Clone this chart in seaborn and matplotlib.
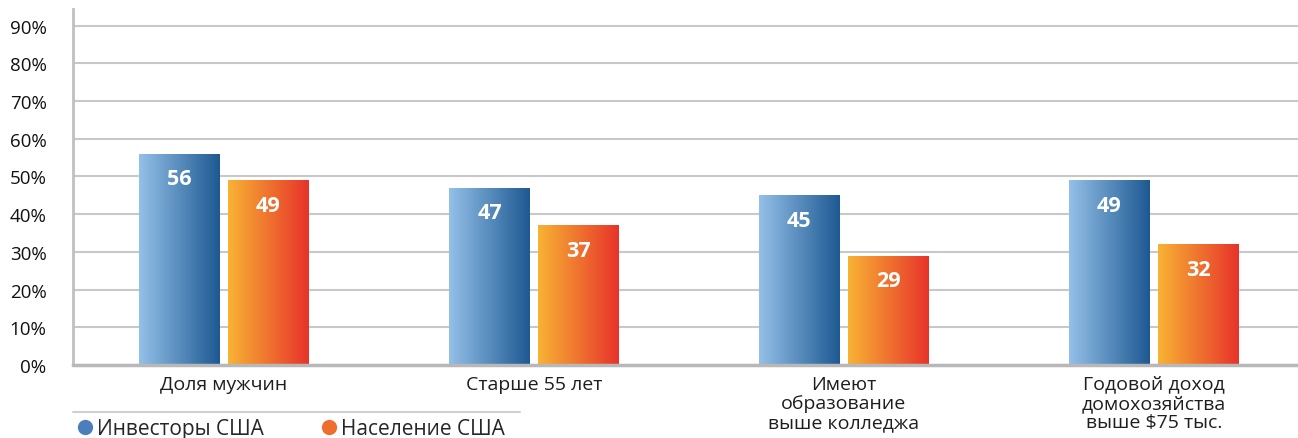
import numpy as np
import pandas as pd
import seaborn as sns
import matplotlib.pyplot as plt
from matplotlib.lines import Line2D
from matplotlib.colors import LinearSegmentedColormap

# Data
categories = ['Доля мужчин', 'Старше 55 лет', 'Имеют\nобразование\nвыше колледжа',
              'Годовой доход\nдомохозяйства\nвыше \\$75 тыс.']
series = ['Инвесторы США', 'Население США']
investors = [56, 47, 45, 49]
population = [49, 37, 29, 32]
yticks = [0, 10, 20, 30, 40, 50, 60, 70, 80, 90]

df = pd.DataFrame({
    'cat': categories * 2,
    'group': [series[0]] * 4 + [series[1]] * 4,
    'value': investors + population,
})

# gradient colours (left -> right) for each series
grad = {
    series[0]: ('#94c0e8', '#1d5992'),
    series[1]: ('#f8b334', '#e7332a'),
}
solid = {series[0]: '#4a7fbb', series[1]: '#ef6e2e'}

sns.set_theme(style='white')
plt.rcParams['font.family'] = ['Open Sans', 'DejaVu Sans']

fig = plt.figure(figsize=(12.98, 4.39), dpi=100)
ax = fig.add_axes([73 / 1298, 1 - 366 / 439, 1 - 73 / 1298, (366 - 10) / 439])

sns.barplot(data=df, x='cat', y='value', hue='group', hue_order=series,
            palette=solid, width=0.574, gap=0.1, legend=False, ax=ax)

# replace flat fills with horizontal gradients clipped to each bar
ramp = np.linspace(0, 1, 256).reshape(1, -1)
for name, cont in zip(series, ax.containers):
    cmap = LinearSegmentedColormap.from_list(name, grad[name])
    for bar, val in zip(cont.patches, cont.datavalues):
        x0, y0 = bar.get_x(), bar.get_y()
        w, h = bar.get_width(), bar.get_height()
        bar.set_facecolor('none')
        bar.set_edgecolor('none')
        im = ax.imshow(ramp, cmap=cmap, aspect='auto', extent=(x0, x0 + w, y0, y0 + h),
                       zorder=2, interpolation='bicubic')
        im.set_clip_path(bar)
        ax.annotate(f'{val:.0f}', (x0 + w / 2, y0 + h), xytext=(0, -18),
                    textcoords='offset points', ha='center', va='center',
                    color='white', fontsize=15.5, fontweight='bold', zorder=3)

ax.set_ylim(0, 94.4)
ax.set_xlim(-0.487, 3.465)

ax.set_yticks(yticks)
ax.set_yticklabels([f'{t}%' for t in yticks])
ax.grid(axis='y', color='#c8c8c8', linewidth=1.5, zorder=0)
ax.set_axisbelow(True)
ax.tick_params(axis='y', length=0, pad=19, labelsize=13.5, labelcolor='#111111')
ax.tick_params(axis='x', length=0, pad=7, labelsize=14, labelcolor='#1e1e1e')
for lab in ax.get_yticklabels():
    lab.set_fontweight('medium')
for lab in ax.get_xticklabels():
    lab.set_linespacing(1.08)
ax.set_xlabel('')
ax.set_ylabel('')

for side in ['top', 'right']:
    ax.spines[side].set_visible(False)
ax.spines['left'].set_color('#c0c0c0')
ax.spines['left'].set_linewidth(2)
ax.spines['bottom'].set_color('#b8b8b8')
ax.spines['bottom'].set_linewidth(2.5)

# separator line above the legend
fig.add_artist(Line2D([73 / 1298, 520 / 1298], [1 - 413 / 439] * 2,
                      transform=fig.transFigure, color='#d0d0d0', linewidth=1.5))

handles = [Line2D([], [], marker='o', linestyle='', markersize=11,
                  markerfacecolor=solid[s], markeredgecolor='none') for s in series]
fig.legend(handles, series, loc='lower left', bbox_to_anchor=(66 / 1298, -0.022),
           ncol=2, frameon=False, fontsize=15, handletextpad=0.1, columnspacing=2.6,
           handlelength=1.0, borderaxespad=0)

fig.savefig('out.png', dpi=100)
